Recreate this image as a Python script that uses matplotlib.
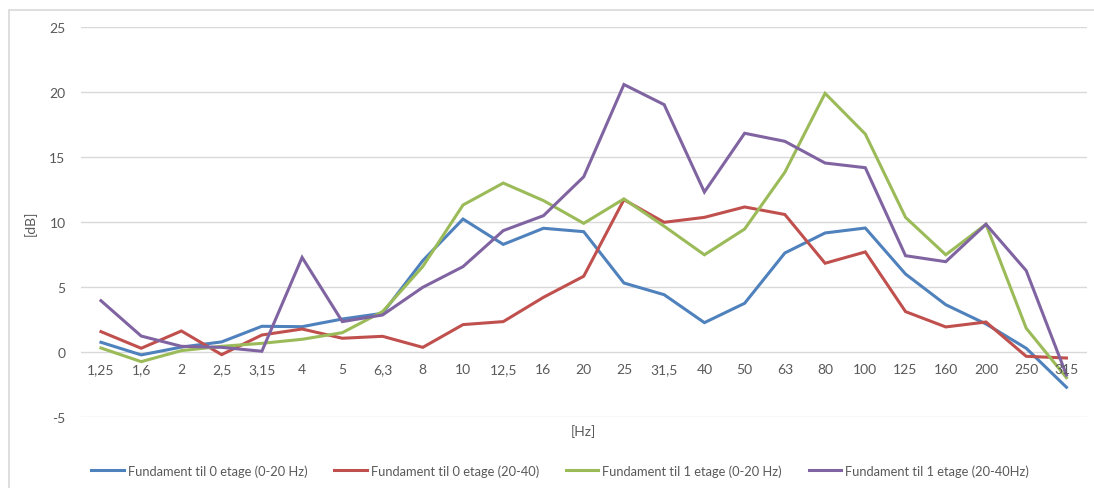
import numpy as np
import matplotlib
matplotlib.use("Agg")
import matplotlib.pyplot as plt
from matplotlib.patches import Rectangle

plt.rcParams['font.family'] = ['Lato', 'DejaVu Sans']
plt.rcParams['axes.unicode_minus'] = False

# 1/3 octave band centres
freqs = ["1,25", "1,6", "2", "2,5", "3,15", "4", "5", "6,3", "8", "10", "12,5", "16",
         "20", "25", "31,5", "40", "50", "63", "80", "100", "125", "160", "200", "250", "315"]

f0_0_20 = [0.77, -0.2, 0.4, 0.8, 2.0, 1.97, 2.56, 3.0, 7.05, 10.25, 8.3, 9.54,
           9.28, 5.33, 4.43, 2.28, 3.77, 7.64, 9.18, 9.56, 6.02, 3.66, 2.18, 0.31, -2.69]
f0_20_40 = [1.59, 0.31, 1.64, -0.18, 1.33, 1.79, 1.08, 1.23, 0.38, 2.13, 2.36, 4.23,
            5.85, 11.74, 10.0, 10.38, 11.18, 10.6, 6.85, 7.72, 3.13, 1.95, 2.33, -0.31, -0.44]
f1_0_20 = [0.33, -0.72, 0.13, 0.46, 0.69, 1.0, 1.51, 3.13, 6.6, 11.33, 13.02, 11.67,
           9.92, 11.8, 9.7, 7.5, 9.48, 13.85, 19.92, 16.79, 10.38, 7.5, 9.85, 1.85, -1.95]
f1_20_40 = [3.97, 1.25, 0.46, 0.38, 0.08, 7.3, 2.36, 2.87, 5.0, 6.59, 9.36, 10.51,
            13.5, 20.6, 19.05, 12.33, 16.85, 16.23, 14.56, 14.2, 7.43, 6.97, 9.85, 6.28, -1.75]

series = [
    ("Fundament til 0 etage (0-20 Hz)", f0_0_20, "#4F81BD"),
    ("Fundament til 0 etage (20-40)", f0_20_40, "#C0504D"),
    ("Fundament til 1 etage (0-20 Hz)", f1_0_20, "#9BBB59"),
    ("Fundament til 1 etage (20-40Hz)", f1_20_40, "#8064A2"),
]

fig = plt.figure(figsize=(10.94, 4.89), dpi=100)
ax = fig.add_axes([0.0739, 0.1446, 0.9193, 0.7975])

# chart border (left/top visible only)
fig.patches.append(Rectangle((9 / 1094, -0.2), 1.2, 1 - 11 / 489 + 0.2,
                             transform=fig.transFigure, fill=False,
                             edgecolor="#d9d9d9", lw=1.2))

x = np.arange(len(freqs))
for name, vals, col in series:
    ax.plot(x, vals, color=col, lw=2.2, label=name, solid_joinstyle="miter")

ax.set_xlim(-0.5, len(freqs) - 0.5)
ax.set_ylim(-5, 25)
ax.set_yticks(np.arange(-5, 26, 5))
ax.grid(axis="y", color="#d9d9d9", lw=1)
ax.set_axisbelow(True)
for s in ["top", "right", "left", "bottom"]:
    ax.spines[s].set_visible(False)

ax.tick_params(axis="y", length=0, pad=11, labelsize=10, labelcolor="#595959")
ax.set_xticks(x)
ax.set_xticklabels([])
ax.tick_params(axis="x", length=0)
# category labels sit just under the zero line
for i, lab in enumerate(freqs):
    ax.text(i, -1.3, lab, ha="center", va="center", fontsize=10, color="#595959")

ax.set_ylabel("[dB]", fontsize=10, color="#595959", labelpad=9)
ax.text(0.5, -0.034, "[Hz]", transform=ax.transAxes, ha="center", va="center",
        fontsize=10, color="#595959")

fig.legend(loc="center", bbox_to_anchor=(0.512, 0.0354), ncol=4, frameon=False,
           fontsize=9.3, handlelength=2.5, handletextpad=0.3, columnspacing=2.1,
           labelcolor="#595959")

fig.savefig("out.png", dpi=100, facecolor="white")
